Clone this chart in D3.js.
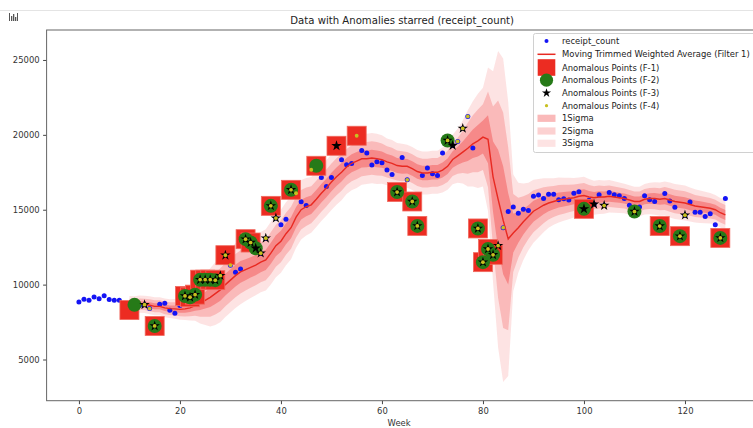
<!DOCTYPE html>
<html>
<head>
<meta charset="utf-8">
<script src="https://cdn.jsdelivr.net/npm/d3@7"></script>
<style>
body { margin: 0; background: #fff; }
text { font-family: "DejaVu Sans", sans-serif; }
</style>
</head>
<body>
<svg id="chart" width="753" height="428"></svg>
<script>
// weekly receipt counts, week = index
const receiptCount = [
  8840, 9020, 8960, 9180, 9060, 9250, 9000, 8960, 8960, 8700,
  8300, 8650, 8600, 8660, 8400, 7240, 8690, 8760, 8290, 8090,
  8600, 9245, 9160, 9330, 10330, 10330, 10330, 10300, 10600, 11965,
  11300, 10830, 11050, 13035, 12810, 12430, 12100, 13100, 15260, 14440,
  13990, 14370, 16330, 16100, 15530, 15280, 17670, 17935, 17150, 16550,
  17150, 19270, 18340, 18000, 18090, 19940, 18960, 18780, 17980, 18200,
  18135, 17650, 17350, 16180, 18490, 17000, 15550, 13920, 17290, 17780,
  17400, 17290, 18780, 19625, 19290, 19560, 20430, 21230, 19130, 13750,
  11500, 12380, 11990, 12600, 13800, 14880, 15190, 14770, 15040, 14950,
  15900, 15980, 15750, 16040, 16040, 15660, 15730, 15650, 16100, 16200,
  15060, 15630, 15370, 16000, 15280, 16150, 16000, 15930, 15750, 15300,
  14880, 15190, 15930, 15660, 15550, 13910, 16080, 15575, 15170, 13235,
  14640, 15510, 14840, 14840, 14545, 14725, 13990, 13120, 15750
];

// moving trimmed weighted average and its sigma, from week 10 on
const maStart = 10;
const movingAvg = [
  8700, 8680, 8700, 8680, 8620, 8550, 8550, 8450, 8400, 8380,
  8350, 8380, 8450, 8600, 8750, 8950, 9150, 9400, 9650, 10000,
  10300, 10600, 10850, 11000, 11150, 11300, 11500, 11650, 12100, 12600,
  12900, 13400, 13800, 14500, 15000, 15200, 15330, 15700, 16100, 16450,
  16850, 17200, 17500, 17850, 18100, 18250, 18400, 18400, 18450, 18400,
  18350, 18200, 18100, 17950, 17900, 17900, 17750, 17550, 17450, 17450,
  17500, 17500, 17650, 17900, 18350, 18600, 18850, 19100, 19400, 19600,
  19850, 19700, 17200, 15700, 14300, 13050, 13450, 13800, 14200, 14550,
  14900, 15100, 15300, 15450, 15550, 15650, 15700, 15750, 15800, 15900,
  15950, 15850, 15800, 15850, 15850, 15900, 15850, 15800, 15750, 15650,
  15550, 15550, 15700, 15750, 15750, 15700, 15750, 15650, 15550, 15500,
  15450, 15350, 15250, 15200, 15150, 15100, 15000, 14800, 14650
];
const sigma = [
  180, 180, 190, 190, 200, 200, 200, 210, 210, 220,
  230, 250, 280, 340, 450, 550, 650, 700, 720, 720,
  720, 720, 720, 700, 680, 670, 670, 680, 700, 700,
  700, 700, 700, 680, 660, 640, 620, 620, 620, 620,
  620, 620, 620, 600, 600, 600, 580, 560, 560, 560,
  540, 520, 520, 500, 500, 480, 480, 480, 480, 480,
  480, 480, 500, 520, 550, 600, 700, 850, 950, 1050,
  1100, 1600, 2350, 3300, 3600, 3050, 1300, 1000, 850, 750,
  700, 650, 600, 550, 520, 500, 480, 460, 440, 420,
  420, 400, 380, 380, 370, 360, 350, 340, 330, 330,
  330, 330, 340, 350, 360, 370, 380, 390, 390, 390,
  390, 380, 370, 360, 350, 340, 330, 330, 330
];

// weeks flagged by each filter
const anomF1 = [10, 15, 21, 22, 23, 24, 25, 26, 27, 29, 33, 34, 38, 42, 47, 51, 55, 63, 66, 67,
  79, 80, 81, 82, 100, 115, 119, 127];
const anomF2 = [11, 15, 21, 22, 23, 24, 25, 26, 27, 33, 34, 35, 38, 42, 47, 63, 66, 67, 73,
  79, 80, 81, 82, 100, 110, 115, 119, 127];
const anomF3 = [13, 15, 21, 22, 23, 24, 25, 26, 27, 28, 29, 33, 34, 35, 36, 37, 38, 39, 42, 51,
  63, 66, 67, 73, 74, 76, 79, 80, 81, 82, 83, 100, 102, 104, 110, 115, 119, 120, 127];
const anomF4 = [13, 14, 15, 21, 22, 23, 24, 25, 26, 27, 28, 29, 30, 33, 34, 36, 37, 38, 39, 42, 43,
  46, 55, 63, 65, 66, 67, 73, 75, 76, 77, 79, 80, 81, 82, 83, 84, 104, 110, 115, 119, 120, 127];

const xTicks = [0, 20, 40, 60, 80, 100, 120];
const yTicks = [5000, 10000, 15000, 20000, 25000];
const legendLabels = ["receipt_count", "Moving Trimmed Weighted Average (Filter 1)",
  "Anomalous Points (F-1)", "Anomalous Points (F-2)", "Anomalous Points (F-3)",
  "Anomalous Points (F-4)", "1Sigma", "2Sigma", "3Sigma"];

var svg = d3.select('#chart');
const plotL = 46.6, plotR = 757.7, plotT = 30, plotB = 400.7;

// pick the font size so the longest legend label is as wide as in the picture (~188px)
var probe = svg.append("text").attr("font-size", 10).text(legendLabels[1]);
const fontSize = Math.min(9.5, Math.max(7.5, 10 * 188 / probe.node().getComputedTextLength()));
probe.remove();

var x = d3.scaleLinear().domain([-6.4, 134.4]).range([plotL, plotR]);
var y = d3.scaleLinear().domain([2250, 27000]).range([plotB, plotT]);

// window chrome at the top
svg.append("line").attr("x1", 0).attr("x2", 753).attr("y1", 10.5).attr("y2", 10.5)
  .attr("stroke", "#e4e4e4");
var icon = svg.append("g").attr("fill", "#555");
[[9, 13, 1, 8], [11, 16, 1.3, 5], [13, 14, 1.3, 7], [15, 17, 1.3, 4], [17, 13, 1, 8]].forEach(function(r) {
  icon.append("rect").attr("x", r[0]).attr("y", r[1]).attr("width", r[2]).attr("height", r[3]);
});

// title
svg.append("text").attr("x", (plotL + plotR) / 2).attr("y", 24)
  .attr("text-anchor", "middle").attr("font-size", fontSize * 1.2).attr("fill", "#222")
  .text("Data with Anomalies starred (receipt_count)");

svg.append("clipPath").attr("id", "plotClip").append("rect")
  .attr("x", plotL).attr("y", plotT).attr("width", plotR - plotL).attr("height", plotB - plotT);
var plot = svg.append("g").attr("clip-path", "url(#plotClip)");

const points = receiptCount.map(function(v, i) { return {w: i, v: v}; });
const maData = movingAvg.map(function(v, i) { return {w: maStart + i, v: v, s: sigma[i]}; });

// sigma bands, outermost first
[[3, 0.12], [2, 0.2], [1, 0.3]].forEach(function(b) {
  var area = d3.area()
    .x(function(d) { return x(d.w); })
    .y0(function(d) { return y(d.v - b[0] * d.s); })
    .y1(function(d) { return y(d.v + b[0] * d.s); });
  plot.append("path").datum(maData).attr("d", area)
    .attr("fill", "#f01818").attr("fill-opacity", b[1]);
});

// blue data points
plot.append("g").selectAll("circle").data(points).enter().append("circle")
  .attr("cx", function(d) { return x(d.w); })
  .attr("cy", function(d) { return y(d.v); })
  .attr("r", 2.5).attr("fill", "#1414f5");

// moving average line
plot.append("path").datum(maData)
  .attr("d", d3.line().x(function(d) { return x(d.w); }).y(function(d) { return y(d.v); }))
  .attr("fill", "none").attr("stroke", "#e82a22").attr("stroke-width", 1.4);

function flagged(list) { return list.map(function(w) { return points[w]; }); }

const sq = 19;
plot.append("g").selectAll("rect").data(flagged(anomF1)).enter().append("rect")
  .attr("x", function(d) { return x(d.w) - sq / 2; })
  .attr("y", function(d) { return y(d.v) - sq / 2; })
  .attr("width", sq).attr("height", sq)
  .attr("fill", "#ec2c22").attr("stroke", "#f06a60").attr("stroke-width", 0.8);

plot.append("g").selectAll("circle").data(flagged(anomF2)).enter().append("circle")
  .attr("cx", function(d) { return x(d.w); })
  .attr("cy", function(d) { return y(d.v); })
  .attr("r", 7).attr("fill", "#267a18");

var star = d3.symbol().type(d3.symbolStar).size(34);
plot.append("g").selectAll("path").data(flagged(anomF3)).enter().append("path")
  .attr("d", star)
  .attr("transform", function(d) { return "translate(" + x(d.w) + "," + y(d.v) + ")"; })
  .attr("fill", "#000");

plot.append("g").selectAll("circle").data(flagged(anomF4)).enter().append("circle")
  .attr("cx", function(d) { return x(d.w); })
  .attr("cy", function(d) { return y(d.v); })
  .attr("r", 1.9).attr("fill", "#c8c020");

// axes
var xAxis = svg.append("g").attr("transform", "translate(0," + plotB + ")")
  .call(d3.axisBottom(x).tickValues(xTicks).tickSize(3.5).tickSizeOuter(0).tickPadding(3.5));
var yAxis = svg.append("g").attr("transform", "translate(" + plotL + ",0)")
  .call(d3.axisLeft(y).tickValues(yTicks).tickSize(3.5).tickSizeOuter(0).tickPadding(3.5)
    .tickFormat(d3.format("d")));
[xAxis, yAxis].forEach(function(a) {
  a.select(".domain").remove();
  a.selectAll("line").attr("stroke", "#444");
  a.selectAll("text").attr("font-size", fontSize).attr("fill", "#333")
    .style("font-family", "DejaVu Sans, sans-serif");
});

// frame
svg.append("rect").attr("x", plotL).attr("y", plotT)
  .attr("width", plotR - plotL).attr("height", plotB - plotT)
  .attr("fill", "none").attr("stroke", "#666").attr("stroke-width", 1);

svg.append("text").attr("x", (plotL + plotR) / 2 - 3).attr("y", 425.5)
  .attr("text-anchor", "middle").attr("font-size", fontSize).attr("fill", "#333")
  .text("Week");

// legend
var legend = svg.append("g");
legend.append("rect").attr("x", 533.5).attr("y", 33.5).attr("width", 240).attr("height", 119)
  .attr("rx", 2).attr("fill", "#fff").attr("fill-opacity", 0.85).attr("stroke", "#d0d0d0");
const rowY = [41, 54.3, 67.5, 80.2, 93, 105.7, 118.3, 131, 143.3];
const hx = 546.5;
legend.append("circle").attr("cx", hx).attr("cy", rowY[0]).attr("r", 2).attr("fill", "#1414f5");
legend.append("line").attr("x1", 537.5).attr("x2", 555.5).attr("y1", rowY[1]).attr("y2", rowY[1])
  .attr("stroke", "#e82a22").attr("stroke-width", 1.5);
legend.append("rect").attr("x", hx - 8.8).attr("y", rowY[2] - 8.3).attr("width", 17.6).attr("height", 16.6)
  .attr("fill", "#ec2c22");
legend.append("circle").attr("cx", hx).attr("cy", rowY[3]).attr("r", 6.6).attr("fill", "#267a18");
legend.append("path").attr("d", d3.symbol().type(d3.symbolStar).size(26))
  .attr("transform", "translate(" + hx + "," + rowY[4] + ")").attr("fill", "#000");
legend.append("circle").attr("cx", hx).attr("cy", rowY[5]).attr("r", 1.6).attr("fill", "#c8c020");
[0.3, 0.2, 0.12].forEach(function(op, i) {
  legend.append("rect").attr("x", 537.5).attr("y", rowY[6 + i] - 3.6).attr("width", 18).attr("height", 7.2)
    .attr("fill", "#f01818").attr("fill-opacity", op);
});
legend.selectAll("text.lab").data(legendLabels).enter().append("text")
  .attr("class", "lab")
  .attr("x", 562).attr("y", function(d, i) { return rowY[i] + 3; })
  .attr("font-size", fontSize).attr("fill", "#222")
  .text(function(d) { return d; });
</script>
</body>
</html>
